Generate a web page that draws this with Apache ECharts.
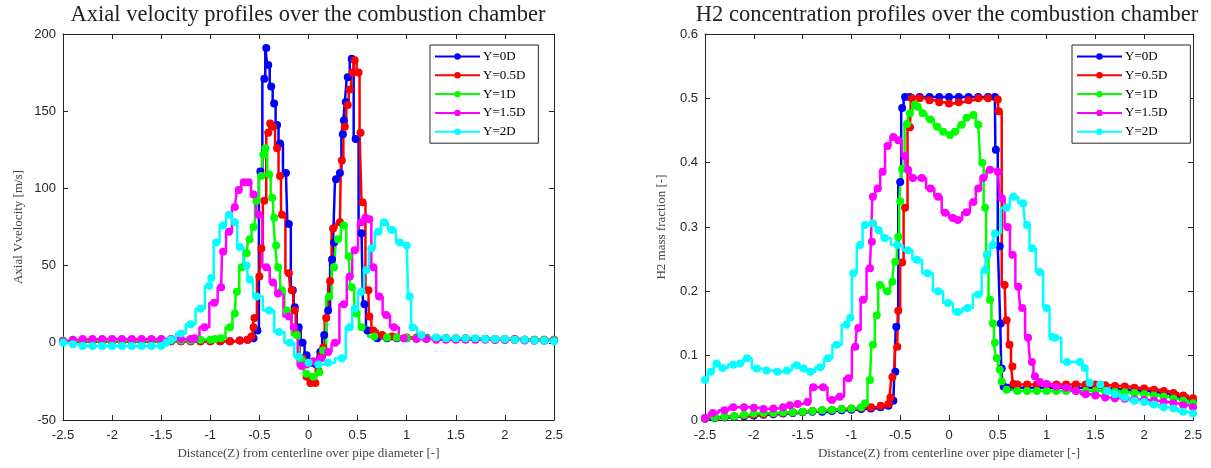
<!DOCTYPE html>
<html><head><meta charset="utf-8">
<script src="https://cdn.jsdelivr.net/npm/echarts@6/dist/echarts.min.js"></script>
<style>html,body{margin:0;padding:0;background:#fff}#c{width:1211px;height:468px}</style>
</head><body><div id="c"></div>
<script>
const seriesNames = ['Y=0D','Y=0.5D','Y=1D','Y=1.5D','Y=2D'];
const seriesColors = ['#0000ff','#ff0000','#00ff00','#ff00ff','#00ffff'];
const xRange = [-2.5, 2.5, 0.5];
const velRange = [-50, 200, 50];
const h2Range = [0, 0.6, 0.1];

// Axial velocity [m/s]
const velY0 = [[-2.5,1],[-2.4,1],[-2.3,1],[-2.2,1],[-2.1,1],[-2,1],[-1.9,1],[-1.8,1],[-1.7,1],[-1.6,1],[-1.5,1],[-1.4,1],[-1.3,1],[-1.2,1],[-1.1,1],[-1,1],[-0.9,1],[-0.8,1],[-0.7,1.5],[-0.62,2],[-0.56,3],[-0.52,8],[-0.49,111],[-0.45,171],[-0.43,191],[-0.41,180],[-0.38,166],[-0.35,155],[-0.32,141],[-0.29,129],[-0.23,110],[-0.2,77],[-0.16,34],[-0.14,23],[-0.1,10],[-0.06,0],[-0.02,-8],[0.03,-13],[0.08,-14],[0.12,-6],[0.16,5],[0.2,21],[0.24,54],[0.26,65],[0.28,106],[0.32,110],[0.35,135],[0.36,144],[0.38,156],[0.4,172],[0.44,184],[0.48,132],[0.54,71],[0.57,25],[0.6,8],[0.7,3],[0.8,3],[0.9,3],[1,3],[1.1,3],[1.2,3],[1.3,3],[1.4,3],[1.5,2.5],[1.6,2.5],[1.7,2.5],[1.8,2.5],[1.9,2],[2,2],[2.1,2],[2.2,2],[2.3,1.5],[2.4,1.5],[2.5,1.5]];
const velY05 = [[-2.5,1],[-2.4,1],[-2.3,1],[-2.2,1],[-2.1,1],[-2,1],[-1.9,1],[-1.8,1],[-1.7,1],[-1.6,1],[-1.5,1],[-1.4,1],[-1.3,1],[-1.2,1],[-1.1,1],[-1,1],[-0.9,1],[-0.8,1],[-0.7,1.5],[-0.62,2],[-0.58,4],[-0.56,10],[-0.55,16],[-0.5,43],[-0.48,61],[-0.45,92],[-0.41,136],[-0.39,142],[-0.36,140],[-0.32,126],[-0.29,108],[-0.27,83],[-0.2,45],[-0.17,34],[-0.14,21],[-0.12,6],[-0.06,-10],[-0.02,-22],[0.02,-26],[0.07,-26],[0.1,-18],[0.13,-8],[0.15,-3],[0.18,16],[0.22,40],[0.25,74],[0.32,78],[0.34,118],[0.37,140],[0.4,154],[0.42,164],[0.45,175],[0.47,183],[0.51,175],[0.53,136],[0.55,91],[0.61,34],[0.62,17],[0.66,8],[0.75,5],[0.85,4],[0.9,3.5],[1,3.5],[1.1,3.5],[1.2,3],[1.3,3],[1.4,3],[1.5,3],[1.6,3],[1.7,2.5],[1.8,2.5],[1.9,2.5],[2,2.5],[2.1,2.5],[2.2,2],[2.3,2],[2.4,2],[2.5,2]];
const velY1 = [[-2.5,1.5],[-2.4,1.5],[-2.3,1.5],[-2.2,1.5],[-2.1,1.5],[-2,1.5],[-1.9,1.5],[-1.8,1.5],[-1.7,1.5],[-1.6,1.5],[-1.5,1.5],[-1.4,1.5],[-1.3,1.5],[-1.2,1.5],[-1.1,2],[-1,2],[-0.95,2.5],[-0.89,3],[-0.8,10],[-0.75,19],[-0.73,33],[-0.68,49],[-0.63,58],[-0.6,67],[-0.56,75],[-0.53,92],[-0.48,108],[-0.46,122],[-0.44,126],[-0.4,109],[-0.37,94],[-0.35,81],[-0.33,63],[-0.31,49],[-0.27,34],[-0.22,21],[-0.12,5],[-0.07,-11],[-0.02,-20],[0.05,-22],[0.11,-19],[0.15,-5],[0.21,30],[0.26,49],[0.3,67],[0.36,76],[0.41,56],[0.44,36],[0.49,19],[0.54,10],[0.67,4],[0.8,3.5],[0.9,3.5],[1,3],[1.1,3],[1.2,3],[1.3,3],[1.4,3],[1.5,2.5],[1.6,2.5],[1.7,2.5],[1.8,2.5],[1.9,2.5],[2,2],[2.1,2],[2.2,2],[2.3,2],[2.4,2],[2.5,2]];
const velY15 = [[-2.5,1],[-2.4,2],[-2.3,2.5],[-2.2,2.5],[-2.1,2.5],[-2,2.5],[-1.9,2.5],[-1.8,2.5],[-1.7,2.5],[-1.6,2.5],[-1.5,2.5],[-1.4,2.5],[-1.3,2.5],[-1.2,2.5],[-1.16,3],[-1.06,10],[-0.96,26],[-0.89,36],[-0.87,59],[-0.81,72],[-0.75,88],[-0.71,99],[-0.66,104],[-0.61,104],[-0.56,96],[-0.51,83],[-0.43,49],[-0.36,39],[-0.31,32],[-0.2,17],[-0.15,10],[-0.07,-15],[-0.02,-14],[0.05,-12],[0.13,-10],[0.2,-6],[0.27,0],[0.36,25],[0.42,43],[0.47,60],[0.54,78],[0.58,81],[0.62,80],[0.66,49],[0.72,30],[0.79,18],[0.87,10],[0.97,3],[1.1,2.5],[1.2,2.5],[1.3,2],[1.4,2],[1.5,2],[1.6,2],[1.7,2],[1.8,2],[1.9,2],[2,2],[2.1,2],[2.2,1.5],[2.3,1.5],[2.4,1.5],[2.5,1.5]];
const velY2 = [[-2.5,0],[-2.4,-1],[-2.3,-2],[-2.2,-2],[-2.1,-2],[-2,-2],[-1.9,-2],[-1.8,-2],[-1.7,-2],[-1.6,-2],[-1.5,-2],[-1.45,0],[-1.4,2],[-1.3,6],[-1.2,12],[-1.1,22],[-1.01,37],[-0.99,42],[-0.94,65],[-0.87,76],[-0.81,83],[-0.75,78],[-0.7,62],[-0.63,50],[-0.6,41],[-0.53,30],[-0.4,21],[-0.3,7],[-0.19,0],[-0.1,-9],[0,-13],[0.1,-14],[0.2,-13],[0.34,-10],[0.42,10],[0.47,22],[0.54,33],[0.59,47],[0.64,61],[0.71,72],[0.77,78],[0.85,73],[0.93,65],[1,63],[1.03,30],[1.06,10],[1.15,5],[1.3,3.5],[1.4,3],[1.5,3],[1.6,3],[1.7,3],[1.8,2.5],[1.9,2.5],[2,2.5],[2.1,2],[2.2,2],[2.3,1.5],[2.4,1.5],[2.5,1]];

// H2 mass fraction [-]
const h2Y0 = [[-2.5,0.002],[-2.4,0.003],[-2.3,0.004],[-2.2,0.005],[-2.1,0.006],[-2,0.007],[-1.9,0.008],[-1.8,0.009],[-1.7,0.01],[-1.6,0.011],[-1.5,0.012],[-1.4,0.013],[-1.3,0.013],[-1.2,0.014],[-1.1,0.015],[-1,0.016],[-0.9,0.017],[-0.8,0.018],[-0.7,0.02],[-0.62,0.022],[-0.57,0.03],[-0.55,0.075],[-0.54,0.145],[-0.5,0.37],[-0.48,0.485],[-0.45,0.502],[-0.4,0.502],[-0.3,0.502],[-0.2,0.502],[-0.1,0.502],[0,0.502],[0.1,0.502],[0.2,0.502],[0.3,0.502],[0.4,0.502],[0.47,0.502],[0.48,0.42],[0.52,0.27],[0.53,0.15],[0.54,0.08],[0.56,0.052],[0.6,0.05],[0.7,0.05],[0.8,0.05],[0.9,0.05],[1,0.05],[1.1,0.05],[1.2,0.05],[1.3,0.05],[1.4,0.05],[1.5,0.05],[1.6,0.049],[1.7,0.048],[1.8,0.047],[1.9,0.046],[2,0.045],[2.1,0.043],[2.2,0.041],[2.3,0.038],[2.4,0.034],[2.5,0.03]];
const h2Y05 = [[-2.5,0.003],[-2.4,0.004],[-2.3,0.005],[-2.2,0.006],[-2.1,0.007],[-2,0.008],[-1.9,0.009],[-1.8,0.01],[-1.7,0.011],[-1.6,0.012],[-1.5,0.013],[-1.4,0.014],[-1.3,0.015],[-1.2,0.016],[-1.1,0.017],[-1,0.018],[-0.9,0.019],[-0.8,0.02],[-0.7,0.022],[-0.62,0.025],[-0.6,0.035],[-0.58,0.067],[-0.53,0.114],[-0.52,0.17],[-0.48,0.245],[-0.45,0.33],[-0.4,0.455],[-0.38,0.5],[-0.3,0.5],[-0.2,0.497],[-0.1,0.494],[0,0.492],[0.1,0.494],[0.2,0.497],[0.3,0.5],[0.4,0.5],[0.5,0.498],[0.51,0.48],[0.57,0.21],[0.59,0.155],[0.62,0.117],[0.65,0.083],[0.66,0.056],[0.7,0.055],[0.8,0.055],[0.9,0.055],[1,0.055],[1.1,0.055],[1.2,0.055],[1.3,0.055],[1.4,0.055],[1.5,0.055],[1.6,0.054],[1.7,0.053],[1.8,0.052],[1.9,0.05],[2,0.049],[2.1,0.047],[2.2,0.045],[2.3,0.042],[2.4,0.038],[2.5,0.034]];
const h2Y1 = [[-2.5,0.003],[-2.4,0.004],[-2.3,0.005],[-2.2,0.006],[-2.1,0.008],[-2,0.01],[-1.9,0.011],[-1.8,0.011],[-1.7,0.012],[-1.6,0.012],[-1.5,0.013],[-1.4,0.014],[-1.3,0.015],[-1.2,0.016],[-1.1,0.017],[-1,0.018],[-0.9,0.02],[-0.86,0.026],[-0.81,0.062],[-0.78,0.117],[-0.74,0.163],[-0.71,0.21],[-0.63,0.2],[-0.58,0.215],[-0.55,0.246],[-0.52,0.285],[-0.5,0.34],[-0.48,0.39],[-0.43,0.46],[-0.4,0.477],[-0.35,0.49],[-0.32,0.487],[-0.27,0.477],[-0.19,0.467],[-0.12,0.456],[-0.06,0.448],[0.01,0.443],[0.06,0.448],[0.13,0.459],[0.18,0.47],[0.25,0.474],[0.3,0.459],[0.34,0.4],[0.37,0.33],[0.39,0.257],[0.42,0.187],[0.45,0.15],[0.47,0.12],[0.49,0.096],[0.52,0.078],[0.54,0.06],[0.59,0.047],[0.7,0.045],[0.8,0.045],[0.9,0.045],[1,0.045],[1.1,0.045],[1.2,0.045],[1.3,0.045],[1.4,0.045],[1.5,0.045],[1.6,0.045],[1.7,0.044],[1.8,0.043],[1.9,0.042],[2,0.04],[2.1,0.038],[2.2,0.036],[2.3,0.033],[2.4,0.03],[2.5,0.026]];
const h2Y15 = [[-2.5,0.003],[-2.42,0.011],[-2.3,0.015],[-2.21,0.02],[-2.1,0.02],[-2,0.019],[-1.9,0.017],[-1.8,0.018],[-1.7,0.02],[-1.63,0.023],[-1.55,0.025],[-1.45,0.028],[-1.39,0.051],[-1.29,0.051],[-1.2,0.031],[-1.12,0.036],[-1.03,0.065],[-0.96,0.114],[-0.93,0.143],[-0.88,0.187],[-0.81,0.236],[-0.79,0.277],[-0.78,0.347],[-0.73,0.36],[-0.68,0.386],[-0.63,0.426],[-0.57,0.44],[-0.52,0.435],[-0.45,0.41],[-0.42,0.389],[-0.37,0.376],[-0.28,0.376],[-0.19,0.36],[-0.11,0.347],[-0.04,0.322],[0.04,0.314],[0.09,0.311],[0.18,0.323],[0.25,0.339],[0.3,0.36],[0.35,0.376],[0.42,0.389],[0.5,0.386],[0.54,0.345],[0.6,0.3],[0.65,0.257],[0.71,0.207],[0.75,0.174],[0.81,0.128],[0.85,0.09],[0.88,0.068],[0.93,0.059],[1,0.056],[1.1,0.052],[1.2,0.05],[1.3,0.045],[1.4,0.04],[1.5,0.038],[1.6,0.035],[1.7,0.034],[1.8,0.033],[1.9,0.032],[2,0.031],[2.1,0.03],[2.2,0.028],[2.3,0.026],[2.4,0.023],[2.5,0.02]];
const h2Y2 = [[-2.5,0.062],[-2.44,0.075],[-2.38,0.088],[-2.32,0.081],[-2.21,0.086],[-2.14,0.088],[-2.07,0.096],[-1.97,0.08],[-1.87,0.077],[-1.76,0.075],[-1.66,0.077],[-1.56,0.085],[-1.49,0.08],[-1.42,0.075],[-1.32,0.082],[-1.24,0.096],[-1.15,0.117],[-1.05,0.148],[-1.01,0.159],[-0.98,0.228],[-0.91,0.272],[-0.86,0.303],[-0.78,0.306],[-0.72,0.295],[-0.66,0.283],[-0.53,0.272],[-0.42,0.264],[-0.33,0.249],[-0.22,0.228],[-0.11,0.2],[-0.01,0.182],[0.09,0.168],[0.19,0.174],[0.3,0.195],[0.37,0.233],[0.39,0.257],[0.45,0.272],[0.47,0.29],[0.59,0.33],[0.66,0.347],[0.76,0.337],[0.8,0.303],[0.85,0.267],[0.93,0.23],[1,0.174],[1.06,0.129],[1.09,0.128],[1.21,0.09],[1.34,0.09],[1.39,0.081],[1.44,0.058],[1.55,0.055],[1.62,0.045],[1.7,0.04],[1.8,0.035],[1.9,0.03],[2,0.028],[2.1,0.024],[2.2,0.02],[2.3,0.018],[2.4,0.013],[2.5,0.01]];

const velData = [velY0, velY05, velY1, velY15, velY2];
const h2Data = [h2Y0, h2Y05, h2Y1, h2Y15, h2Y2];

const AX = '#262626';
const tickFont = {fontFamily:'Liberation Sans', fontSize:13, color:AX};
const nameFont = {fontFamily:'Liberation Serif', fontSize:13, color:'#444'};

function xAx(grid, top) {
  return {
    type:'value', gridIndex:grid, min:xRange[0], max:xRange[1], interval:xRange[2],
    position: top ? 'top' : 'bottom',
    name: top ? '' : 'Distance(Z) from centerline over pipe diameter [-]',
    nameLocation:'middle', nameGap:26, nameTextStyle:nameFont,
    axisLine:{show:true, onZero:false, lineStyle:{color:AX, width:1}},
    axisTick:{show:true, inside:true, length:5, lineStyle:{color:AX}},
    axisLabel:{show:!top, margin:9, ...tickFont},
    splitLine:{show:false}
  };
}
function yAx(grid, right, rng, name, gap) {
  return {
    type:'value', gridIndex:grid, min:rng[0], max:rng[1], interval:rng[2],
    position: right ? 'right' : 'left',
    name: right ? '' : name,
    nameLocation:'middle', nameGap:gap, nameTextStyle:nameFont,
    axisLine:{show:true, onZero:false, lineStyle:{color:AX, width:1}},
    axisTick:{show:true, inside:true, length:5, lineStyle:{color:AX}},
    axisLabel:{show:!right, margin:7, ...tickFont},
    splitLine:{show:false}
  };
}

const series = [];
[velData, h2Data].forEach((set, g) => {
  set.forEach((d, i) => {
    series.push({
      type:'line', name:seriesNames[i], xAxisIndex:g*2, yAxisIndex:g*2, data:d,
      step:'middle', symbol:'circle', symbolSize:8, showSymbol:true,
      lineStyle:{color:seriesColors[i], width:2.5},
      itemStyle:{color:seriesColors[i], borderWidth:0},
      emphasis:{disabled:true}, animation:false, clip:true
    });
  });
});

function legend(left, padRight) {
  return {
    data:seriesNames, orient:'vertical', left:left, top:45,
    itemWidth:45, itemHeight:8, itemGap:5.8, padding:[5,padRight,5,4],
    backgroundColor:'#fff', borderColor:AX, borderWidth:1, borderRadius:0,
    textStyle:{fontFamily:'Liberation Serif', fontSize:13, color:'#000', padding:[0,0,0,-2]},
    selectedMode:false
  };
}

const chart = echarts.init(document.getElementById('c'), null, {renderer:'canvas'});
chart.setOption({
  animation:false,
  backgroundColor:'#fff',
  title:[
    {text:'Axial velocity profiles over the combustion chamber', left:308, top:4, textAlign:'center', padding:0,
     textStyle:{fontFamily:'Liberation Serif', fontSize:22.5, fontWeight:'normal', color:'#222'}},
    {text:'H2 concentration profiles over the combustion chamber', left:947, top:4, textAlign:'center', padding:0,
     textStyle:{fontFamily:'Liberation Serif', fontSize:22.5, fontWeight:'normal', color:'#222'}}
  ],
  legend:[legend(430, 13), legend(1072, 23)],
  grid:[
    {left:63, top:34, width:491, height:386, containLabel:false},
    {left:705, top:34, width:488, height:386, containLabel:false}
  ],
  xAxis:[xAx(0,false), xAx(0,true), xAx(1,false), xAx(1,true)],
  yAxis:[yAx(0,false,velRange,'Axial Vvelocity [m/s]',38), yAx(0,true,velRange,'',0),
         yAx(1,false,h2Range,'H2 mass fraction [-]',37), yAx(1,true,h2Range,'',0)],
  series:series
});
</script>
</body></html>
